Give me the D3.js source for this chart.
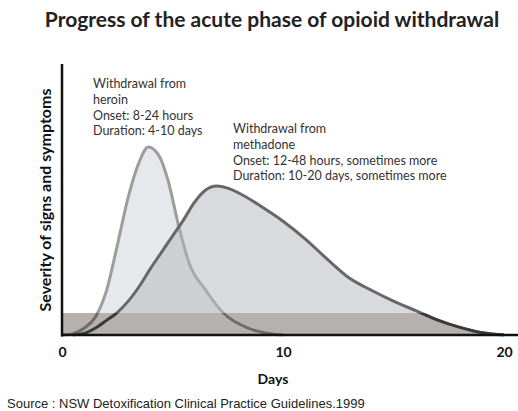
<!DOCTYPE html>
<html>
<head>
<meta charset="utf-8">
<script src="https://cdn.jsdelivr.net/npm/d3@7"></script>
<style>
  body { margin: 0; background: #fff; }
  svg { display: block; }
  .gill { font-family: Lato, "Open Sans", sans-serif; }
</style>
</head>
<body>
<div id="chart"></div>
<script>
// days since last dose and estimated severity (0-100)
var heroinDays = [0, 0.5, 1, 1.5, 2, 2.5, 3, 3.5, 3.9, 4.4, 4.8, 5.3, 5.75, 6.5, 7.3, 8.4, 9.5, 10];
var heroinSeverity = [0, 0.5, 2.5, 6.5, 16, 33, 51, 64, 69.4, 66, 57, 39.5, 26.6, 16.6, 8.1, 2.6, 0.4, 0];
var methadoneDays = [0.5, 1, 1.5, 2, 2.5, 3, 3.5, 4, 4.5, 5, 5.5, 6, 6.5, 7, 7.5, 8, 9, 10, 11, 12, 13, 14, 15, 16, 17, 18, 19, 20];
var methadoneSeverity = [0, 0.6, 2.5, 5.3, 8.3, 12.5, 18, 24.5, 30.5, 36.5, 42.5, 49, 53.5, 55, 54.2, 52.4, 47.5, 42, 35.5, 28, 21, 16.5, 12.5, 9, 5.5, 2.8, 0.8, 0];
var bandLevel = 8.1;       // the shaded strip along the bottom
var xTicks = [0, 10, 20];
var heroinNote = ["Withdrawal from", "heroin", "Onset: 8-24 hours", "Duration: 4-10 days"];
var methadoneNote = ["Withdrawal from", "methadone", "Onset: 12-48 hours, sometimes more", "Duration: 10-20 days, sometimes more"];

var W = 518, H = 411;
var svg = d3.select("#chart").append("svg").attr("width", W).attr("height", H);

var x = d3.scaleLinear().domain([0, 20]).range([62, 504]);
var y = d3.scaleLinear().domain([0, 100]).range([335, 64]);

var heroin = heroinDays.map(function(d, i) { return {d: d, v: heroinSeverity[i]}; });
var methadone = methadoneDays.map(function(d, i) { return {d: d, v: methadoneSeverity[i]}; });

var area = d3.area()
    .x(function(p) { return x(p.d); })
    .y0(y(0))
    .y1(function(p) { return y(p.v); })
    .curve(d3.curveMonotoneX);
var line = area.lineY1();

// title
svg.append("text")
    .attr("class", "gill")
    .attr("x", 272).attr("y", 27)
    .attr("text-anchor", "middle")
    .style("font-size", "21px").style("font-weight", 700).style("fill", "#222")
    .text("Progress of the acute phase of opioid withdrawal");

// heroin curve
svg.append("path").datum(heroin)
    .attr("d", area).attr("fill", "#e7e8eb");
svg.append("path").datum(heroin)
    .attr("d", line).attr("fill", "none").attr("stroke", "#9d9d9d").attr("stroke-width", 3);

// methadone curve, see-through so the heroin line shows under it
svg.append("path").datum(methadone)
    .attr("d", area).attr("fill", "#b4b6bb").attr("fill-opacity", 0.5);
svg.append("path").datum(methadone)
    .attr("d", line).attr("fill", "none").attr("stroke", "#676767").attr("stroke-width", 3);

// bottom strip: full width up to the methadone peak, then under the methadone curve
var peakDay = methadoneDays[methadoneSeverity.indexOf(d3.max(methadoneSeverity))];
var clip = svg.append("clipPath").attr("id", "bandClip");
clip.append("rect")
    .attr("x", x(0)).attr("y", y(100))
    .attr("width", x(peakDay) - x(0)).attr("height", y(0) - y(100));
clip.append("path").datum(methadone).attr("d", area);

var band = svg.append("g").attr("clip-path", "url(#bandClip)");
band.append("rect")
    .attr("x", x(0)).attr("y", y(bandLevel))
    .attr("width", x(20) - x(0)).attr("height", y(0) - y(bandLevel))
    .attr("fill", "#b6b1ad");
var clip2 = svg.append("clipPath").attr("id", "bandRect");
clip2.append("rect")
    .attr("x", x(0)).attr("y", y(bandLevel))
    .attr("width", W).attr("height", y(0) - y(bandLevel));
var bandLines = svg.append("g").attr("clip-path", "url(#bandRect)");
bandLines.append("path").datum(heroin)
    .attr("d", line).attr("fill", "none").attr("stroke", "#6e6c6a").attr("stroke-width", 3);
bandLines.append("path").datum(methadone)
    .attr("d", line).attr("fill", "none").attr("stroke", "#3c3a39").attr("stroke-width", 3);

// axes
svg.append("line")
    .attr("x1", x(0)).attr("x2", x(0)).attr("y1", 64).attr("y2", y(0) + 1.5)
    .attr("stroke", "#111").attr("stroke-width", 2.5);
svg.append("line")
    .attr("x1", x(0) - 1).attr("x2", W).attr("y1", y(0)).attr("y2", y(0))
    .attr("stroke", "#111").attr("stroke-width", 2.5);

var xAxis = svg.append("g")
    .attr("transform", "translate(0," + y(0) + ")")
    .call(d3.axisBottom(x).tickValues(xTicks).tickSize(0).tickPadding(12));
xAxis.select(".domain").remove();
xAxis.selectAll("text")
    .attr("class", "gill")
    .style("font-size", "14px").style("font-weight", 700).style("fill", "#111");

svg.append("text")
    .attr("class", "gill")
    .attr("x", 273).attr("y", 384)
    .attr("text-anchor", "middle")
    .style("font-size", "14px").style("font-weight", 700).style("fill", "#111")
    .text("Days");

svg.append("text")
    .attr("class", "gill")
    .attr("transform", "translate(51,200) rotate(-90)")
    .attr("text-anchor", "middle")
    .style("font-size", "16px").style("font-weight", 700).style("fill", "#111")
    .text("Severity of signs and symptoms");

// notes
function note(lines, left, top) {
    svg.append("text")
        .attr("class", "gill")
        .style("font-size", "12.5px").style("fill", "#333")
        .selectAll("tspan").data(lines).enter().append("tspan")
        .attr("x", left)
        .attr("y", function(d, i) { return top + i * 15.8; })
        .text(function(d) { return d; });
}
note(heroinNote, 93, 88);
note(methadoneNote, 233, 133);

// source line
svg.append("text")
    .attr("x", 7).attr("y", 408)
    .style("font-family", "'Liberation Sans', Arial, sans-serif")
    .style("font-size", "13px").style("fill", "#222")
    .text("Source : NSW Detoxification Clinical Practice Guidelines.1999");
</script>
</body>
</html>
